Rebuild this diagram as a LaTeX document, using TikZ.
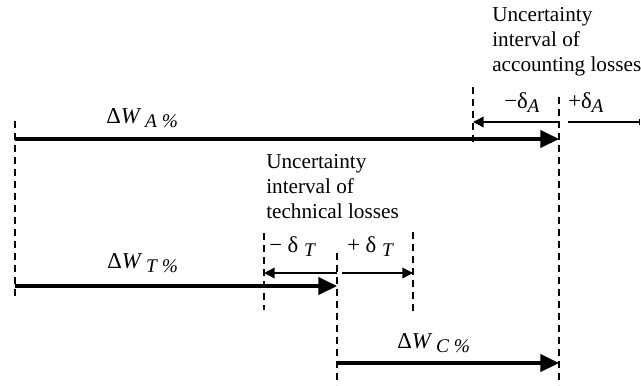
\documentclass[tikz,border=0pt]{standalone}
\usepackage{fontspec}
\setmainfont{Liberation Serif}
\usetikzlibrary{arrows.meta, positioning}

\newcommand{\lsub}[1]{\raisebox{-0.4ex}{\fontsize{14.5}{14.5}\selectfont\itshape #1}}

\begin{document}
\begin{tikzpicture}[x=0.75pt, y=-0.75pt,
    limit/.style={line width=1.5pt, dash pattern=on 5.25pt off 3.75pt},
    loss/.style={line width=2.6pt, -{Triangle[length=14pt, width=13pt]}},
    dev/.style={line width=1.1pt, -{Triangle[length=8pt, width=8pt]}},
    lbl/.style={anchor=base west, inner sep=0pt, font=\fontsize{17}{20}\selectfont},
    note/.style={anchor=north west, inner sep=0pt, align=left, font=\fontsize{15.9}{18.75}\selectfont},
]
    \useasboundingbox (0,0) rectangle (641,385);

    % interval boundaries
    \coordinate (o0) at (15,121);    \coordinate (o1) at (15,300);
    \coordinate (a0) at (473,87);    \coordinate (a1) at (473,144);
    \coordinate (c0) at (559,97);    \coordinate (c1) at (559,385);
    \coordinate (t0) at (264,233);   \coordinate (t1) at (264,310);
    \coordinate (m0) at (337,253);   \coordinate (m1) at (337,385);
    \coordinate (p0) at (413,232);   \coordinate (p1) at (413,313);
    \foreach \v in {o,a,c,t,m,p}
        \draw[limit] (\v0) -- (\v1);

    % losses
    \draw[loss] (o0 |- 0,139) -- (c0 |- 0,139);
    \draw[loss] (o0 |- 0,286) -- (m0 |- 0,286);
    \draw[loss] (m0 |- 0,363) -- (c0 |- 0,363);

    % uncertainty of accounting losses
    \draw[dev] (c0 |- 0,122) -- (a0 |- 0,122);
    \coordinate (ae) at (640,122);
    \draw[line width=1.1pt, -{Bar[width=5pt]}] (568,122) -- (ae);

    % uncertainty of technical losses
    \draw[dev] (m0 |- 0,273) -- (t0 |- 0,273);
    \draw[dev] (342,273) -- (p0 |- 0,273);

    % labels
    \node[lbl] (wa) at (106,123) {Δ\textit{W}\,\lsub{A \%}};
    \node[lbl] (wt) at (107,268) {Δ\textit{W}\,\lsub{T \%}};
    \node[lbl] (wc) at (397,348) {Δ\textit{W}\,\lsub{C \%}};
    \node[lbl] (da1) at (504,108) {−δ\lsub{A}};
    \node[lbl] (da2) at (568,108) {+δ\lsub{A}};
    \node[lbl] (dt1) at (269,252) {− δ \lsub{T}};
    \node[lbl] (dt2) at (347,252) {+ δ \lsub{T}};

    \node[note] (na) at (492,7) {Uncertainty\\interval of\\accounting losses};
    \node[note] (nt) at (266,154) {Uncertainty\\interval of\\technical losses};
\end{tikzpicture}
\end{document}
